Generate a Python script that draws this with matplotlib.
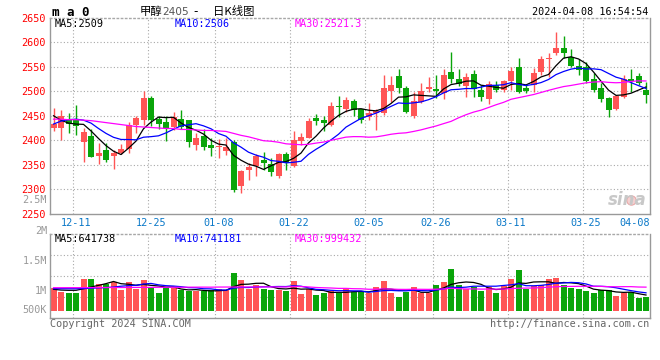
import numpy as np
import pandas as pd
import matplotlib
matplotlib.use("Agg")
import matplotlib.pyplot as plt

# ma0 daily candles, 80 trading days up to 2024-04-08
opens = [2424, 2426, 2441, 2443, 2397, 2409, 2367, 2380, 2367, 2373,
         2382, 2431, 2441, 2486, 2443, 2438, 2428, 2444, 2441, 2390,
         2409, 2390, 2387, 2379, 2397, 2307, 2339, 2348, 2360, 2352,
         2327, 2372, 2348, 2399, 2405, 2446, 2441, 2431, 2470, 2463,
         2480, 2463, 2447, 2455, 2456, 2501, 2531, 2506, 2450, 2479,
         2504, 2504, 2496, 2540, 2525, 2511, 2535, 2503, 2484, 2512,
         2503, 2520, 2550, 2506, 2513, 2539, 2566, 2579, 2589, 2569,
         2552, 2550, 2525, 2506, 2486, 2464, 2489, 2525, 2531, 2503]
highs = [2465, 2462, 2455, 2472, 2424, 2423, 2394, 2394, 2380, 2393,
         2438, 2450, 2501, 2490, 2450, 2450, 2458, 2462, 2441, 2414,
         2423, 2404, 2402, 2405, 2401, 2339, 2354, 2372, 2375, 2363,
         2373, 2377, 2418, 2414, 2445, 2454, 2450, 2479, 2490, 2488,
         2484, 2463, 2477, 2463, 2533, 2531, 2545, 2511, 2499, 2516,
         2530, 2533, 2545, 2580, 2545, 2538, 2544, 2513, 2520, 2520,
         2523, 2549, 2567, 2513, 2547, 2573, 2578, 2620, 2613, 2586,
         2565, 2559, 2538, 2516, 2489, 2493, 2533, 2545, 2537, 2518]
lows = [2419, 2401, 2414, 2411, 2355, 2365, 2351, 2356, 2341, 2372,
        2373, 2414, 2431, 2430, 2422, 2399, 2421, 2423, 2387, 2380,
        2380, 2367, 2363, 2370, 2295, 2292, 2318, 2326, 2339, 2326,
        2322, 2339, 2346, 2390, 2404, 2431, 2418, 2429, 2447, 2458,
        2450, 2435, 2441, 2420, 2452, 2479, 2496, 2455, 2445, 2477,
        2499, 2486, 2484, 2516, 2511, 2489, 2489, 2481, 2474, 2499,
        2499, 2503, 2496, 2496, 2499, 2533, 2530, 2574, 2567, 2550,
        2533, 2516, 2499, 2479, 2448, 2461, 2487, 2499, 2513, 2477]
closes = [2433, 2450, 2433, 2430, 2416, 2366, 2373, 2360, 2373, 2382,
          2431, 2445, 2486, 2441, 2433, 2426, 2448, 2428, 2396, 2404,
          2387, 2385, 2389, 2386, 2299, 2337, 2345, 2368, 2353, 2336,
          2372, 2353, 2401, 2407, 2440, 2440, 2436, 2470, 2467, 2482,
          2462, 2441, 2455, 2460, 2506, 2513, 2506, 2458, 2480, 2501,
          2508, 2501, 2533, 2525, 2515, 2529, 2504, 2489, 2515, 2503,
          2520, 2542, 2499, 2501, 2538, 2566, 2567, 2589, 2578, 2552,
          2544, 2520, 2503, 2484, 2461, 2490, 2525, 2520, 2516, 2493]
volumes = [954, 788, 746, 754, 1329, 1329, 1113, 1113, 1204, 871,
           1204, 913, 1288, 1000, 746, 975, 954, 850, 808, 808,
           808, 850, 896, 879, 1579, 1279, 896, 1071, 896, 863,
           879, 821, 1238, 688, 904, 646, 738, 821, 725, 892,
           792, 792, 725, 988, 1238, 738, 583, 792, 1000, 725,
           725, 1071, 1208, 1738, 1071, 892, 975, 821, 975, 738,
           1029, 1333, 1696, 892, 1029, 1071, 1333, 1375, 1071, 958,
           904, 821, 738, 863, 863, 625, 725, 792, 542, 583]  # thousand lots

# moving averages on the left edge (their windows start before the chart)
ma5_head = [2450, 2441, 2435, 2433]
ma10_head = [2433, 2439, 2442, 2443, 2441, 2435, 2424, 2414, 2406]
ma30_head = [2443, 2443, 2442, 2442, 2441, 2440, 2438, 2436, 2434, 2432,
             2430, 2428, 2427, 2426, 2425, 2424, 2424, 2422, 2422, 2421,
             2420, 2420, 2419, 2418, 2414, 2410, 2407, 2403, 2399]
vma5_head = [892, 860, 850, 850]
vma10_head = [917, 917, 915, 915, 920, 935, 950, 965, 985]
vma30_head = [958, 958, 960, 960, 962, 961, 965, 966, 967, 966,
              970, 971, 972, 970, 975, 976, 977, 975, 980, 981,
              982, 980, 985, 986, 987, 985, 990, 989, 991]

tick_pos = [3, 13, 22, 32, 42, 51, 61, 71]
tick_labels = ["12-11", "12-25", "01-08", "01-22", "02-05", "02-26", "03-11", "03-25"]
last_label = "04-08"

UP = "#FF5555"
DOWN = "#0AA50A"
GRID = "#A8A8A8"
FRAME = "#999999"
MONO = "DejaVu Sans Mono"
FS = 7.3


def ma(vals, n, head):
    out = pd.Series(vals, dtype=float).rolling(n).mean().to_numpy()
    out[:n - 1] = head
    return out


x = np.arange(len(closes))
o = np.array(opens)
c = np.array(closes)
up = c >= o
cols = np.where(up, UP, DOWN)
vol = np.array(volumes) * 1000.0

fig = plt.figure(figsize=(6.6, 3.6), dpi=100)


def box(l, t, r, b):
    return [l / 660, 1 - b / 360, (r - l) / 660, (b - t) / 360]


ax = fig.add_axes(box(50, 17.8, 650, 213.7))
axv = fig.add_axes(box(50, 234.3, 650, 318.3))

xlim = (-0.467, 79.533)
dotted = (0, (1, 2))

# ---- price panel
ax.set_xlim(*xlim)
ax.set_ylim(2250, 2650)
for y in range(2300, 2650, 50):
    ax.axhline(y, color=GRID, lw=0.8, ls=dotted, zorder=0)
for p in tick_pos:
    ax.axvline(p - 0.45, color=GRID, lw=0.8, ls=dotted, zorder=0)
    axv.axvline(p - 0.45, color=GRID, lw=0.8, ls=dotted, zorder=0)

ax.vlines(x, lows, highs, colors=cols, lw=1.0, zorder=2)
body = np.maximum(np.abs(c - o), 1.2)
ax.bar(x, body, bottom=np.minimum(o, c), width=0.8, color=cols, lw=0, zorder=3)

ax.plot(x, ma(closes, 5, ma5_head), color="black", lw=0.9, zorder=4)
ax.plot(x, ma(closes, 10, ma10_head), color="#0000FF", lw=0.9, zorder=4)
ax.plot(x, ma(closes, 30, ma30_head), color="#FF00FF", lw=0.9, zorder=4)

ax.set_yticks(range(2250, 2651, 50))
ax.tick_params(axis="y", length=0, pad=3, labelsize=FS, labelcolor="#FF0000")
for t in ax.get_yticklabels():
    t.set_family(MONO)
ax.set_xticks(tick_pos + [79.5], tick_labels + [last_label])
ax.tick_params(axis="x", length=0, pad=3, labelsize=FS, labelcolor="#0A78C8")
for t in ax.get_xticklabels():
    t.set_family(MONO)
ax.get_xticklabels()[-1].set_ha("right")

ax.text(-0.005, 2278, "2.5M", transform=ax.get_yaxis_transform(), ha="right",
        va="center", family=MONO, fontsize=FS, color="#999999")

ax.text(0.008, 0.97, "MA5:2509", transform=ax.transAxes, va="center", family=MONO,
        fontsize=FS, color="black")
ax.text(0.208, 0.97, "MA10:2506", transform=ax.transAxes, va="center", family=MONO,
        fontsize=FS, color="#0000FF")
ax.text(0.408, 0.97, "MA30:2521.3", transform=ax.transAxes, va="center", family=MONO,
        fontsize=FS, color="#FF00FF")

# sina watermark
ax.scatter([77.0], [2278], s=45, facecolor="#F6D0D0", edgecolor="#E8A8A8", lw=0.8, zorder=1)
ax.text(0.995, 0.07, "sina", transform=ax.transAxes, ha="right", va="center",
        fontsize=12, fontweight="bold", style="italic", color="#C8C8C8", zorder=1)

# ---- volume panel
k = 24.0 / 1e6   # px per lot
axv.set_xlim(*xlim)
axv.set_ylim(-7.6 / k, 76.4 / k)
for q in (1, 2, 3):
    axv.axhline(-7.6 / k + q * 21 / k, color=GRID, lw=0.8, ls=dotted, zorder=0)
axv.bar(x, vol, width=0.8, color=cols, lw=0, zorder=2)
axv.plot(x, ma(vol, 5, np.array(vma5_head) * 1000.0), color="black", lw=0.9, zorder=3)
axv.plot(x, ma(vol, 10, np.array(vma10_head) * 1000.0), color="#0000FF", lw=0.9, zorder=3)
axv.plot(x, ma(vol, 30, np.array(vma30_head) * 1000.0), color="#FF00FF", lw=0.9, zorder=3)
axv.set_xticks([])
axv.set_yticks([])
for lab, py in (("2M", 230.7), ("1.5M", 261.0), ("1M", 291.0), ("500K", 310.3)):
    axv.text(-0.005, (310.7 - py) / k, lab, transform=axv.get_yaxis_transform(),
             ha="right", va="center", family=MONO, fontsize=FS, color="#999999",
             clip_on=False)

axv.text(0.008, 0.95, "MA5:641738", transform=axv.transAxes, va="center", family=MONO,
         fontsize=FS, color="black")
axv.text(0.208, 0.95, "MA10:741181", transform=axv.transAxes, va="center", family=MONO,
         fontsize=FS, color="#0000FF")
axv.text(0.408, 0.95, "MA30:999432", transform=axv.transAxes, va="center", family=MONO,
         fontsize=FS, color="#FF00FF")

for a in (ax, axv):
    for s in a.spines.values():
        s.set_color(FRAME)
        s.set_linewidth(1.0)
    a.spines["top"].set_linestyle(dotted)
    a.spines["top"].set_color(GRID)
    a.set_facecolor("white")

# ---- header / footer
def fx(px):
    return px / 660


def fy(py):
    return 1 - py / 360


fig.text(fx(52), fy(12), "m a 0", family=MONO, fontweight="bold", fontsize=9,
         va="center", color="black")
cjk = ["Noto Sans CJK SC", "DejaVu Sans"]
fig.text(fx(140), fy(11.5), "甲醇", family=cjk, fontsize=8.2, va="center", color="black")
fig.text(fx(162), fy(12), "2405", family="DejaVu Sans", fontsize=7.6, va="center", color="#555555")
fig.text(fx(193), fy(11.5), "-", family="DejaVu Sans", fontsize=8.5, va="center", color="black")
fig.text(fx(213), fy(11.5), "日K线图", family=cjk, fontsize=8.2, va="center", color="black")
fig.text(fx(648), fy(12.3), "2024-04-08 16:54:54", family=MONO, fontsize=FS,
         ha="right", va="center", color="black")
fig.text(fx(50), fy(324), "Copyright 2024 SINA.COM", family=MONO, fontsize=FS,
         va="center", color="#666666")
fig.text(fx(649), fy(324), "http://finance.sina.com.cn", family=MONO, fontsize=FS,
         ha="right", va="center", color="#666666")

fig.savefig("out.png", dpi=100, facecolor="white")
